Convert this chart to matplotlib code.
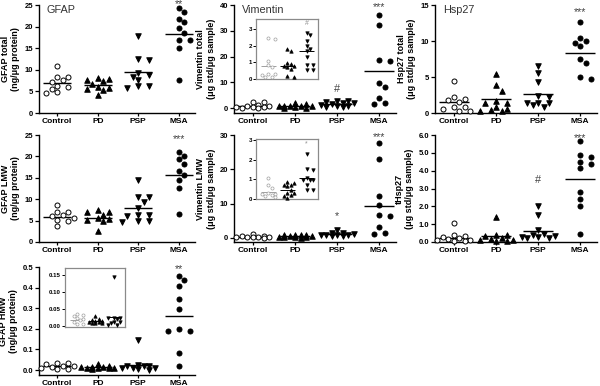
import numpy as np
import matplotlib
matplotlib.use('Agg')
import matplotlib.pyplot as plt

plt.rcParams['font.family'] = ['Liberation Sans', 'DejaVu Sans']

GROUPS = ['Control', 'PD', 'PSP', 'MSA']

# ---- GFAP total (ng/ug protein)
GT_CTRL = [10.9, 8.4, 8.4, 7.6, 7.2, 6.3, 6.0, 5.6, 4.9, 4.7]
GT_PD = [8.1, 7.8, 7.6, 7.3, 6.8, 6.0, 5.7, 5.5, 5.3, 4.1]
GT_PSP = [17.9, 12.6, 12.3, 9.3, 8.8, 8.3, 7.7, 6.3, 6.2, 5.9]
GT_MSA = [24.2, 23.4, 21.7, 21.1, 19.7, 18.5, 16.9, 16.9, 15.1, 7.6]
GT_MEAN = [7.0, 6.4, 9.5, 18.4]

# ---- Vimentin total
VT_CTRL = [2.45, 2.4, 1.1, 0.85, 0.7, 0.3, 0.28, 0.25, 0.1, 0.1]
VT_PD = [1.82, 1.66, 0.96, 0.88, 0.8, 0.76, 0.72, 0.62, 0.16, 0.1]
VT_PSP = [2.76, 2.66, 2.26, 1.96, 1.82, 1.7, 1.32, 0.86, 0.86, 0.56, 0.56]
VT_MSA = [36.0, 32.2, 18.8, 18.2, 9.7, 8.2, 3.9, 2.1, 1.7]
VT_MEAN = [0.8, 0.8, 1.7, 14.5]

# ---- Hsp27 total
HT_CTRL = [4.46, 2.2, 1.95, 1.86, 1.5, 0.9, 0.9, 0.6, 0.3, 0.3]
HT_PD = [5.4, 3.9, 3.1, 1.7, 1.4, 1.4, 0.8, 0.5, 0.4, 0.3, 0.3]
HT_PSP = [6.5, 5.5, 4.35, 2.4, 2.2, 1.45, 1.4, 1.35, 1.1, 0.9]
HT_MSA = [12.6, 10.4, 10.0, 9.7, 9.3, 7.5, 7.0, 5.0, 4.7]
HT_MEAN = [1.5, 1.95, 2.6, 8.4]

# ---- GFAP LMW
GL_CTRL = [8.7, 7.1, 7.0, 6.2, 6.0, 5.7, 5.2, 4.8, 3.65]
GL_PD = [7.4, 7.0, 6.9, 6.4, 5.6, 5.35, 5.2, 4.8, 2.65]
GL_PSP = [14.5, 10.6, 10.5, 9.3, 8.0, 6.4, 6.4, 6.0, 4.8, 4.8, 4.7]
GL_MSA = [21.0, 20.2, 19.4, 18.2, 16.6, 15.7, 14.5, 12.7, 6.5]
GL_MEAN = [5.9, 5.6, 7.9, 15.6]

# ---- Vimentin LMW
VL_CTRL = [1.05, 0.69, 0.56, 0.3, 0.27, 0.25, 0.2, 0.13, 0.1]
VL_PD = [0.84, 0.81, 0.72, 0.7, 0.64, 0.47, 0.3, 0.3, 0.22, 0.13, 0.05]
VL_PSP = [2.3, 1.52, 1.48, 1.06, 0.95, 0.95, 0.95, 0.73, 0.47, 0.47]
VL_MSA = [27.8, 23.0, 12.3, 9.7, 6.6, 6.5, 3.1, 1.4, 1.0]
VL_MEAN = [0.35, 0.47, 1.06, 9.3]

# ---- tHsp27
TH_CTRL = [1.05, 0.4, 0.35, 0.3, 0.2, 0.15, 0.1, 0.1, 0.08, 0.05]
TH_PD = [1.41, 0.42, 0.4, 0.35, 0.2, 0.15, 0.1, 0.1, 0.08, 0.05]
TH_PSP = [2.0, 1.5, 0.65, 0.45, 0.4, 0.35, 0.3, 0.3, 0.25, 0.2]
TH_MSA = [5.67, 4.9, 4.78, 4.5, 4.37, 4.13, 2.8, 2.4, 2.0, 0.47]
TH_MEAN = [0.2, 0.34, 0.6, 3.55]

# ---- GFAP HMW
GH_CTRL = [0.035, 0.032, 0.029, 0.022, 0.02, 0.016, 0.012, 0.006, 0.004]
GH_PD = [0.03, 0.02, 0.017, 0.015, 0.013, 0.012, 0.01, 0.009, 0.008, 0.007]
GH_PSP = [0.145, 0.024, 0.022, 0.022, 0.02, 0.012, 0.01, 0.008, 0.003, 0.002]
GH_MSA = [0.456, 0.439, 0.406, 0.347, 0.295, 0.2, 0.189, 0.189, 0.085, 0.021]
GH_MEAN = [0.018, 0.013, 0.025, 0.262]

# significance marks: (group index, text, y value)
GT_SIG = [(3, '**', 25.3)]
VT_SIG = [(3, '***', 39.0), (2, '#', 7.3)]
HT_SIG = [(3, '***', 14.0)]
GL_SIG = [(3, '***', 24.0)]
VL_SIG = [(3, '***', 29.3), (2, '*', 6.3)]
TH_SIG = [(3, '***', 5.85), (2, '#', 3.5)]
GH_SIG = [(3, '**', 0.49)]
VT_INSET_SIG = [(2, '#', 3.35)]
VL_INSET_SIG = [(2, '*', 2.8)]

W, H = 600, 386
fig = plt.figure(figsize=(6, 3.86), dpi=100)

COLS = [(39, 195), (234, 396), (435, 597)]
ROWS = [(5, 113), (135, 242), (267, 375)]

TICK_FS = 5.5
LAB_FS = 6.5
BOLD = 'bold'


def px_axes(x0, x1, y0, y1):
    return fig.add_axes([x0 / W, 1 - y1 / H, (x1 - x0) / W, (y1 - y0) / H])


def swarm_offsets(ax, xc, vals, diam, step, nmax):
    """Spread points sideways (in pixels) so that close values sit side by side."""
    vals = np.asarray(vals, float)
    pts = ax.transData.transform(np.column_stack([np.full(len(vals), xc), vals]))
    ys = pts[:, 1]
    ppx = ax.transData.transform((1, 0))[0] - ax.transData.transform((0, 0))[0]
    placed = []
    offs = np.zeros(len(vals))
    cands = [0.0]
    for k in range(1, nmax + 1):
        cands += [k * step, -k * step]
    for i in np.argsort(-ys):
        best, bestd = 0.0, -1
        for cx in cands:
            d = min([np.hypot(cx - px, ys[i] - py) for px, py in placed] + [1e9])
            if d >= diam:
                best = cx
                break
            if d > bestd:
                best, bestd = cx, d
        placed.append((best, ys[i]))
        offs[i] = best / ppx
    return offs


def draw_groups(ax, data, means, ngroups, size, diam, step, nmax, ctrl_color='black',
                half=0.35, lw=1.0, mlw=0.7):
    styles = [('o', 'white', ctrl_color), ('^', 'black', 'black'),
              ('v', 'black', 'black'), ('o', 'black', 'black')]
    for i in range(ngroups):
        vals = data[i]
        offs = swarm_offsets(ax, i, vals, diam, step, nmax)
        m, fc, ec = styles[i]
        s = size * (1.2 if m in '^v' else 1.0)
        ax.scatter(i + offs, vals, marker=m, s=s, facecolor=fc, edgecolor=ec,
                   linewidths=mlw, zorder=3, clip_on=False)
        ax.hlines(means[i], i - half, i + half,
                  color=ctrl_color if i == 0 else 'black', lw=lw, zorder=2)


def style_main(ax, ylim, yticks, yticklabels, ylabel, xlim=(-0.45, 3.4)):
    ax.set_xlim(*xlim)
    ax.set_ylim(*ylim)
    for s in ['top', 'right']:
        ax.spines[s].set_visible(False)
    for s in ['left', 'bottom']:
        ax.spines[s].set_linewidth(1.0)
    ax.spines['left'].set_bounds(ylim[0], yticks[-1])
    ax.set_yticks(yticks)
    ax.set_yticklabels(yticklabels, fontsize=TICK_FS, fontweight=BOLD)
    ax.set_xticks(range(4))
    ax.set_xticklabels(GROUPS, fontsize=TICK_FS + 0.5, fontweight=BOLD)
    ax.tick_params(axis='y', length=3, width=0.9, pad=1.2)
    ax.tick_params(axis='x', length=2, width=0.9, pad=1.5)
    ax.set_ylabel(ylabel, fontsize=LAB_FS, fontweight=BOLD, labelpad=3, linespacing=1.25)


def add_sig(ax, sig, fs=7.8, color='#444444'):
    for gi, txt, y in sig:
        ax.text(gi, y, txt, ha='center', va='center', fontsize=fs, color=color)


def add_title(ax, txt):
    ax.text(0.05, 0.955, txt, transform=ax.transAxes, ha='left', va='center',
            fontsize=7.8, color='#333333')


def make_inset(x0, x1, y0, y1, data, means, ylim, yticks, yticklabels, sig=None):
    ax = px_axes(x0, x1, y0, y1)
    ax.set_xlim(-0.65, 2.6)
    ax.set_ylim(*ylim)
    for s in ax.spines.values():
        s.set_color('#8a8a8a')
        s.set_linewidth(0.9)
    ax.set_xticks([])
    ax.set_yticks(yticks)
    ax.set_yticklabels(yticklabels, fontsize=4.4, fontweight=BOLD)
    ax.tick_params(axis='y', length=2, width=0.7, pad=1, colors='black')
    draw_groups(ax, data, means, 3, size=5, diam=3.4, step=3.2, nmax=2,
                ctrl_color='#a0a0a0', half=0.4, lw=0.7, mlw=0.5)
    if sig:
        add_sig(ax, sig, fs=5, color='#909090')
    return ax


MAIN = dict(size=13, diam=6.0, step=5.5, nmax=3)

# ---------------- Row 1
ax = px_axes(COLS[0][0], COLS[0][1], ROWS[0][0], ROWS[0][1])
style_main(ax, (0, 25), [0, 5, 10, 15, 20, 25], ['0', '5', '10', '15', '20', '25'],
           'GFAP total\n(ng/\u03bcg protein)')
draw_groups(ax, [GT_CTRL, GT_PD, GT_PSP, GT_MSA], GT_MEAN, 4, **MAIN)
add_sig(ax, GT_SIG)
add_title(ax, 'GFAP')

ax = px_axes(COLS[1][0], COLS[1][1], ROWS[0][0], ROWS[0][1])
style_main(ax, (-1.9, 40), [0, 10, 20, 30, 40], ['0', '10', '20', '30', '40'],
           'Vimentin total\n(\u03bcg std/\u03bcg sample)')
draw_groups(ax, [VT_CTRL, VT_PD, VT_PSP, VT_MSA], VT_MEAN, 4, **MAIN)
add_sig(ax, VT_SIG)
add_title(ax, 'Vimentin')
make_inset(256, 318, 19, 79, [VT_CTRL, VT_PD, VT_PSP], VT_MEAN, (0, 3.6),
           [0, 1, 2, 3], ['0', '1', '2', '3'], VT_INSET_SIG)

ax = px_axes(COLS[2][0], COLS[2][1], ROWS[0][0], ROWS[0][1])
style_main(ax, (0, 15), [0, 5, 10, 15], ['0', '5', '10', '15'],
           'Hsp27 total\n(\u03bcg std/\u03bcg sample)')
draw_groups(ax, [HT_CTRL, HT_PD, HT_PSP, HT_MSA], HT_MEAN, 4, **MAIN)
add_sig(ax, HT_SIG)
add_title(ax, 'Hsp27')

# ---------------- Row 2
ax = px_axes(COLS[0][0], COLS[0][1], ROWS[1][0], ROWS[1][1])
style_main(ax, (0, 25), [0, 5, 10, 15, 20, 25], ['0', '5', '10', '15', '20', '25'],
           'GFAP LMW\n(ng/\u03bcg protein)')
draw_groups(ax, [GL_CTRL, GL_PD, GL_PSP, GL_MSA], GL_MEAN, 4, **MAIN)
add_sig(ax, GL_SIG)

ax = px_axes(COLS[1][0], COLS[1][1], ROWS[1][0], ROWS[1][1])
style_main(ax, (-1.2, 30), [0, 10, 20, 30], ['0', '10', '20', '30'],
           'Vimentin LMW\n(\u03bcg std/\u03bcg sample)')
draw_groups(ax, [VL_CTRL, VL_PD, VL_PSP, VL_MSA], VL_MEAN, 4, **MAIN)
add_sig(ax, VL_SIG)
make_inset(256, 318, 139, 199, [VL_CTRL, VL_PD, VL_PSP], VL_MEAN, (0, 3.05),
           [0, 1, 2, 3], ['0', '1', '2', '3'], VL_INSET_SIG)

ax = px_axes(COLS[2][0], COLS[2][1], ROWS[1][0], ROWS[1][1])
style_main(ax, (0, 6), [0, 1, 2, 3, 4, 5, 6], ['0.0', '1.0', '2.0', '3.0', '4.0', '5.0', '6.0'],
           'tHsp27\n(\u03bcg std/\u03bcg sample)')
draw_groups(ax, [TH_CTRL, TH_PD, TH_PSP, TH_MSA], TH_MEAN, 4, **MAIN)
add_sig(ax, TH_SIG)

# ---------------- Row 3
ax = px_axes(COLS[0][0], COLS[0][1], ROWS[2][0], ROWS[2][1])
style_main(ax, (-0.024, 0.5), [0, 0.1, 0.2, 0.3, 0.4, 0.5], ['0.0', '0.1', '0.2', '0.3', '0.4', '0.5'],
           'GFAP HMW\n(ng/\u03bcg protein)')
draw_groups(ax, [GH_CTRL, GH_PD, GH_PSP, GH_MSA], GH_MEAN, 4, **MAIN)
add_sig(ax, GH_SIG)
make_inset(65, 125, 268, 327, [GH_CTRL, GH_PD, GH_PSP], GH_MEAN, (-0.004, 0.172),
           [0, 0.05, 0.10, 0.15], ['0.00', '0.05', '0.10', '0.15'])

fig.savefig('out.png', dpi=100)
